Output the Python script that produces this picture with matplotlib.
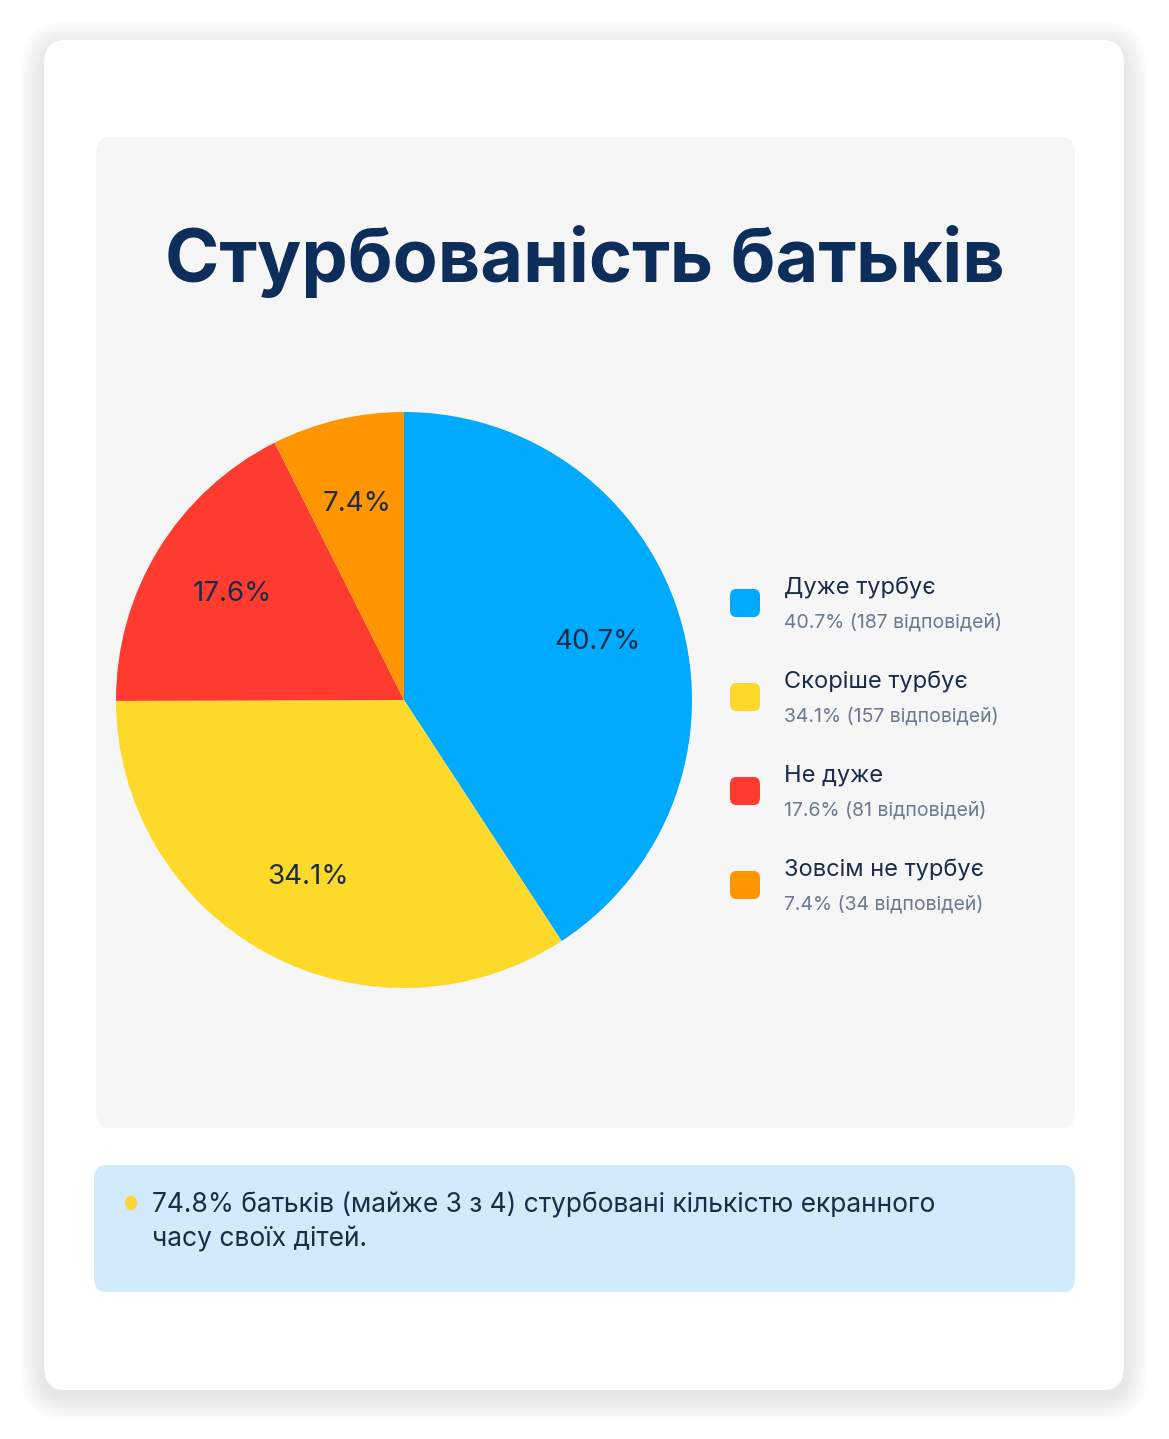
import matplotlib.pyplot as plt
from matplotlib.patches import FancyBboxPatch, Circle

labels = ['Дуже турбує', 'Скоріше турбує', 'Не дуже', 'Зовсім не турбує']
shares = [40.7, 34.1, 17.6, 7.4]
counts = [187, 157, 81, 34]
colors = ['#00aaff', '#fdd92a', '#ff3b30', '#ff9500']

title = 'Стурбованість батьків'
note = '74.8% батьків (майже 3 з 4) стурбовані кількістю екранного\nчасу своїх дітей.'

W, H = 1169, 1439
plt.rcParams['font.family'] = ['Inter', 'DejaVu Sans']
fig = plt.figure(figsize=(W / 100, H / 100), dpi=100)
fig.patch.set_facecolor('white')

def box(x0, y0, x1, y1, fc, r, z=0, alpha=1.0):
    p = FancyBboxPatch((x0 / W, 1 - y1 / H), (x1 - x0) / W, (y1 - y0) / H,
                       boxstyle=f'round,pad=0,rounding_size={r / W}',
                       transform=fig.transFigure, fc=fc, ec='none', zorder=z, alpha=alpha)
    fig.patches.append(p)

def txt(x, y, s, **kw):
    fig.text(x / W, 1 - y / H, s, **kw)

# soft shadow + card
for i in range(8):
    d = 24 - i * 3
    box(44 - d, 40 - d + 6, 1124 + d, 1390 + d + 6, '#000000', 20 + d, z=0, alpha=0.012)
box(44, 40, 1124, 1390, 'white', 20, z=1)
box(96, 137, 1075, 1128, '#f6f6f6', 14, z=2)
box(94, 1165, 1075, 1292, '#d1ebfb', 12, z=2)

txt(585, 262, title, ha='center', va='center', fontsize=53, fontweight='bold', color='#0d2d5a')

# pie
cx, cy, r = 404, 700, 288
ax = fig.add_axes([(cx - r) / W, 1 - (cy + r) / H, 2 * r / W, 2 * r / H])
wedges, texts = ax.pie(shares, colors=colors, startangle=90, counterclock=False,
                       labels=[f'{s}%' for s in shares], labeldistance=0.7,
                       textprops=dict(fontsize=20, color='#1c2b4a', ha='center', va='center'),
                       wedgeprops=dict(linewidth=0), normalize=True, radius=1)
ax.set_xlim(-1, 1)
ax.set_ylim(-1, 1)
ax.set_aspect('equal')
ax.set_zorder(3)

# legend
for i, (lab, s, n, c) in enumerate(zip(labels, shares, counts, colors)):
    y = 588 + i * 94
    box(730, y + 1, 760, y + 29, c, 6, z=3)
    txt(784, y, lab, ha='left', va='center', fontsize=17, color='#1c2b4a')
    txt(784, y + 34, f'{s}% ({n} відповідей)', ha='left', va='center', fontsize=14, color='#6b7a90')

# note with bulb
fig.patches.append(Circle((131 / W, 1 - 1203 / H), 6 / W, transform=fig.transFigure,
                          fc='#ffd43b', ec='none', zorder=4))
txt(152, 1222, note, ha='left', va='center', fontsize=19, color='#1c2b4a', linespacing=1.4)

fig.savefig('out.png', dpi=100)
